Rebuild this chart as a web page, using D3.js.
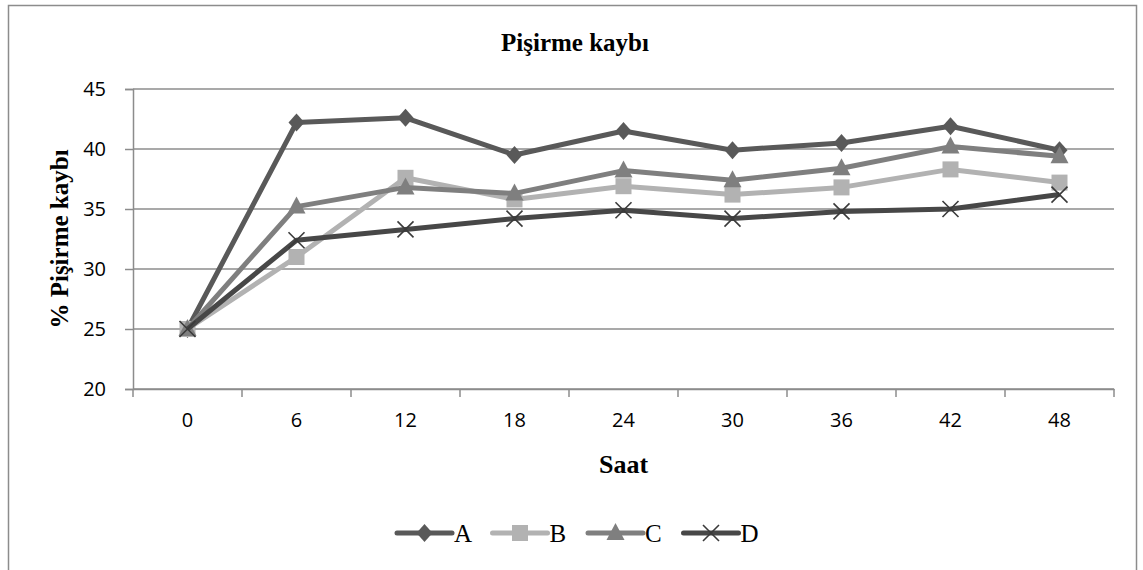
<!DOCTYPE html>
<html>
<head>
<meta charset="utf-8">
<script src="https://cdn.jsdelivr.net/npm/d3@7"></script>
<style>
  body { margin: 0; background: #fff; }
  .tick text { font-family: "Open Sans", sans-serif; font-size: 20px; fill: #000; }
  .serif { font-family: "Liberation Serif", "Times New Roman", serif; fill: #000; }
</style>
</head>
<body>
<div id="chart"></div>
<script>
var hours = ['0', '6', '12', '18', '24', '30', '36', '42', '48'];
var yTicks = [20, 25, 30, 35, 40, 45];
var seriesNames = ['A', 'B', 'C', 'D'];
var valuesA = [25, 42.2, 42.6, 39.5, 41.5, 39.9, 40.5, 41.9, 39.9];
var valuesB = [25, 31.0, 37.6, 35.8, 36.9, 36.2, 36.8, 38.3, 37.2];
var valuesC = [25, 35.2, 36.8, 36.3, 38.2, 37.4, 38.4, 40.2, 39.4];
var valuesD = [25, 32.4, 33.3, 34.2, 34.9, 34.2, 34.8, 35.0, 36.2];

var width = 1143, height = 570;
var margin = {left: 133, right: 29, top: 89, bottom: 181};

var series = [
    {name: seriesNames[0], values: valuesA, color: '#595959', marker: 'diamond'},
    {name: seriesNames[1], values: valuesB, color: '#b2b2b2', marker: 'square'},
    {name: seriesNames[2], values: valuesC, color: '#7f7f7f', marker: 'triangle'},
    {name: seriesNames[3], values: valuesD, color: '#474747', marker: 'x'}
];

var svg = d3.select('#chart')
    .append('svg')
    .attr('width', width)
    .attr('height', height);

// outer chart border
svg.append('rect')
    .attr('x', 8.5).attr('y', 5.5)
    .attr('width', 1128).attr('height', 600)
    .attr('fill', 'none')
    .attr('stroke', '#8c8c8c')
    .attr('stroke-width', 1.5);

var x = d3.scaleBand()
    .domain(hours)
    .range([margin.left, width - margin.right]);

var y = d3.scaleLinear()
    .domain([20, 45])
    .range([height - margin.bottom, margin.top]);

// gridlines
svg.append('g')
    .selectAll('line')
    .data(yTicks)
    .join('line')
    .attr('x1', margin.left)
    .attr('x2', width - margin.right)
    .attr('y1', d => y(d))
    .attr('y2', d => y(d))
    .attr('stroke', '#8c8c8c')
    .attr('stroke-width', 1.5);

var yAxis = svg.append('g')
    .attr('transform', `translate(${margin.left},0)`)
    .call(d3.axisLeft(y).tickValues(yTicks).tickSize(8).tickPadding(19));
yAxis.select('.domain').attr('stroke', '#8c8c8c').attr('stroke-width', 1.5);
yAxis.selectAll('.tick line').attr('stroke', '#8c8c8c').attr('stroke-width', 1.5);

// x axis: ticks sit on band boundaries
var xAxis = svg.append('g')
    .attr('transform', `translate(0,${height - margin.bottom})`)
    .call(d3.axisBottom(x).tickSize(0).tickPadding(24));
xAxis.select('.domain').attr('stroke', '#8c8c8c').attr('stroke-width', 1.5);

var edges = hours.map(h => x(h)).concat([x(hours[hours.length - 1]) + x.bandwidth()]);
xAxis.selectAll('line.edge')
    .data(edges)
    .join('line')
    .attr('class', 'edge')
    .attr('x1', d => d).attr('x2', d => d)
    .attr('y1', 0).attr('y2', 8)
    .attr('stroke', '#8c8c8c')
    .attr('stroke-width', 1.5);

var line = d3.line()
    .x((d, i) => x(hours[i]) + x.bandwidth() / 2)
    .y(d => y(d));

function drawMarker(g, type, color, cx, cy) {
    if (type === 'diamond') {
        g.append('path')
            .attr('d', `M${cx},${cy - 9}L${cx + 8},${cy}L${cx},${cy + 9}L${cx - 8},${cy}Z`)
            .attr('fill', color);
    } else if (type === 'square') {
        g.append('rect')
            .attr('x', cx - 8).attr('y', cy - 8)
            .attr('width', 16).attr('height', 16)
            .attr('fill', color);
    } else if (type === 'triangle') {
        g.append('path')
            .attr('d', `M${cx},${cy - 10}L${cx + 9},${cy + 7}L${cx - 9},${cy + 7}Z`)
            .attr('fill', color);
    } else {
        g.append('path')
            .attr('d', `M${cx - 8},${cy - 8}L${cx + 8},${cy + 8}M${cx - 8},${cy + 8}L${cx + 8},${cy - 8}`)
            .attr('stroke', '#3a3a3a')
            .attr('stroke-width', 1.6)
            .attr('fill', 'none');
    }
}

series.forEach(s => {
    var g = svg.append('g').attr('class', 'series');
    g.append('path')
        .datum(s.values)
        .attr('d', line)
        .attr('fill', 'none')
        .attr('stroke', s.color)
        .attr('stroke-width', 5)
        .attr('stroke-linejoin', 'round');
    s.values.forEach((v, i) => {
        drawMarker(g, s.marker, s.color, x(hours[i]) + x.bandwidth() / 2, y(v));
    });
});

// titles
svg.append('text')
    .attr('class', 'serif')
    .attr('x', 575).attr('y', 51)
    .attr('text-anchor', 'middle')
    .style('font-size', '25px').style('font-weight', 'bold')
    .text('Pişirme kaybı');

svg.append('text')
    .attr('class', 'serif')
    .attr('x', (margin.left + width - margin.right) / 2).attr('y', 473)
    .attr('text-anchor', 'middle')
    .style('font-size', '26px').style('font-weight', 'bold')
    .text('Saat');

svg.append('text')
    .attr('class', 'serif')
    .attr('transform', `translate(68,${(margin.top + height - margin.bottom) / 2}) rotate(-90)`)
    .attr('text-anchor', 'middle')
    .style('font-size', '25px').style('font-weight', 'bold')
    .text('% Pişirme kaybı');

// legend
var legend = svg.append('g').attr('transform', 'translate(397,533)');
series.forEach((s, i) => {
    var g = legend.append('g').attr('transform', `translate(${i * 95.5},0)`);
    g.append('line')
        .attr('x1', 0).attr('x2', 55)
        .attr('stroke', s.color)
        .attr('stroke-width', 5)
        .attr('stroke-linecap', 'round');
    drawMarker(g, s.marker, s.color, 27.5, 0);
    g.append('text')
        .attr('class', 'serif')
        .attr('x', 57).attr('y', 9)
        .style('font-size', '25px')
        .text(s.name);
});
</script>
</body>
</html>
